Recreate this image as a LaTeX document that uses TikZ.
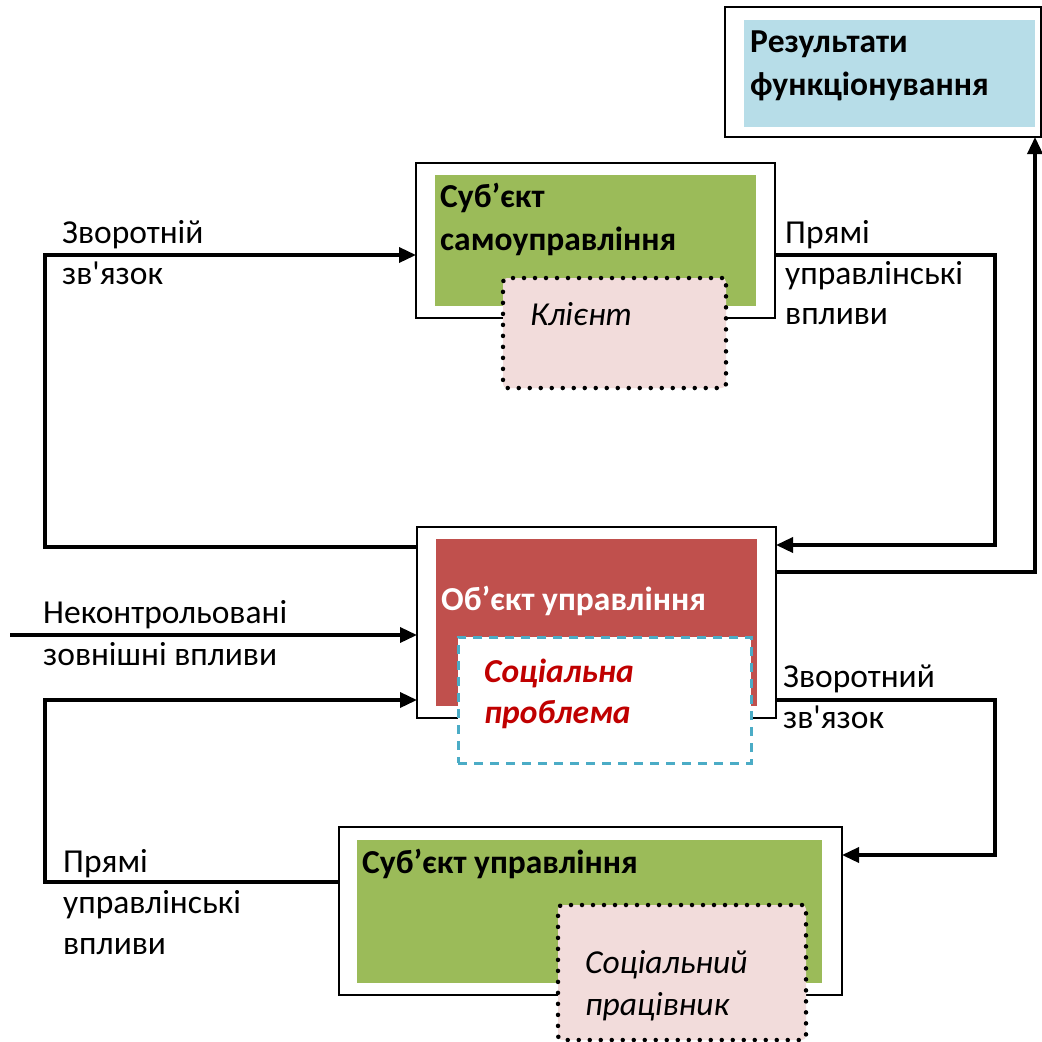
\documentclass[tikz,border=0pt]{standalone}
\usepackage{fontspec}
\setmainfont{Carlito}[Ligatures=TeXOff]
\usetikzlibrary{arrows.meta}
\definecolor{cgreen}{HTML}{9BBB59}
\definecolor{cred}{HTML}{C0504D}
\definecolor{cblue}{HTML}{B7DDE8}
\definecolor{cpink}{HTML}{F2DCDB}
\definecolor{cdash}{HTML}{4BACC6}
\definecolor{cdred}{HTML}{C00000}
\tikzset{
  outerbox/.style={draw=black, line width=2pt, fill=white, anchor=north west, inner sep=0pt, outer sep=0pt},
  fillbox/.style={anchor=north west, inner sep=0pt, outer sep=0pt, draw=none},
  dotbox/.style={draw=black, fill=cpink, line width=4.5pt, dash pattern=on 0pt off 11pt, line cap=round, rounded corners=4pt, anchor=north west, inner sep=0pt, outer sep=0pt},
  dashbox/.style={draw=cdash, fill=white, line width=3pt, dash pattern=on 9pt off 7pt, anchor=north west, inner sep=0pt, outer sep=0pt},
  conn/.style={draw=black, line width=3.5pt},
  arr/.style={conn, -{Triangle[length=17pt,width=15pt]}},
  lbl/.style={anchor=base west, inner sep=0pt, font=\fontsize{33.5}{41}\selectfont},
  blbl/.style={lbl, font=\fontsize{33.5}{41}\selectfont\bfseries},
}
\begin{document}
\begin{tikzpicture}[x=1pt,y=-1pt]
\path[use as bounding box, fill=white] (0,0) rectangle (1042,1042);

% Results box
\node[outerbox, minimum width=316pt, minimum height=130pt] (res) at (725,7) {};
\node[fillbox, fill=cblue, minimum width=291pt, minimum height=107pt] (resin) at (744,20) {};
\node[blbl] (t1) at (750,52) {Результати};
\node[blbl] (t2) at (750,95) {функціонування};

% Self-management subject
\node[outerbox, minimum width=359pt, minimum height=155pt] (samo) at (416,163) {};
\node[fillbox, fill=cgreen, minimum width=321pt, minimum height=131pt] (samoin) at (435,175) {};
\node[blbl] (t3) at (440,207) {Суб’єкт};
\node[blbl] (t4) at (440,250) {самоуправління};
\node[dotbox, minimum width=223pt, minimum height=110pt] (kl) at (503,278) {};
\node[lbl, font=\fontsize{33.5}{41}\selectfont\itshape] (t5) at (530,325) {Клієнт};

% Object of management
\node[outerbox, minimum width=359pt, minimum height=191pt] (obj) at (417,527) {};
\node[fillbox, fill=cred, minimum width=321pt, minimum height=167pt] (objin) at (436,539) {};
\node[blbl, text=white] (t6) at (441,610) {Об’єкт управління};
\node[dashbox, minimum width=293pt, minimum height=126pt] (sp) at (458,637) {};
\node[blbl, font=\fontsize{33.5}{41}\selectfont\bfseries\itshape, text=cdred] (t7) at (484,682) {Соціальна};
\node[blbl, font=\fontsize{33.5}{41}\selectfont\bfseries\itshape, text=cdred] (t8) at (484,723) {проблема};

% Subject of management
\node[outerbox, minimum width=503pt, minimum height=168pt] (subj) at (339,827) {};
\node[fillbox, fill=cgreen, minimum width=465pt, minimum height=143pt] (subjin) at (357,840) {};
\node[blbl] (t9) at (362,873) {Суб’єкт управління};
\node[dotbox, minimum width=248pt, minimum height=135pt] (sw) at (558,905) {};
\node[lbl, font=\fontsize{33.5}{41}\selectfont\itshape] (t10) at (585,973) {Соціальний};
\node[lbl, font=\fontsize{33.5}{41}\selectfont\itshape] (t11) at (585,1015) {працівник};

% Connectors
\coordinate (ext) at (10,635);
\draw[arr] ([yshift=-20pt]obj.north west) -- (45,547) |- ([yshift=-92pt]samo.north west);
\draw[arr] ([yshift=-92pt]samo.north east) -- (995,255) |- ([yshift=-18pt]obj.north east);
\draw[arr] ([yshift=-45pt]obj.north east) -| ([xshift=-6pt]res.south east);
\draw[arr] (ext) -- ([yshift=-108pt]obj.north west);
\draw[arr] ([yshift=-55pt]subj.north west) -- (45,882) |- ([yshift=-173pt]obj.north west);
\draw[arr] ([yshift=-173pt]obj.north east) -- (995,700) |- ([yshift=-28pt]subj.north east);

% Labels
\node[lbl] (l1) at (62,243) {Зворотній};
\node[lbl] (l2) at (62,284) {зв'язок};
\node[lbl] (l3) at (785,243) {Прямі};
\node[lbl] (l4) at (785,284) {управлінські};
\node[lbl] (l5) at (785,324) {впливи};
\node[lbl] (l6) at (43,623) {Неконтрольовані};
\node[lbl] (l7) at (43,665) {зовнішні впливи};
\node[lbl] (l8) at (783,687) {Зворотний};
\node[lbl] (l9) at (783,728) {зв'язок};
\node[lbl] (l10) at (63,872) {Прямі};
\node[lbl] (l11) at (63,913) {управлінські};
\node[lbl] (l12) at (63,954) {впливи};
\end{tikzpicture}
\end{document}
